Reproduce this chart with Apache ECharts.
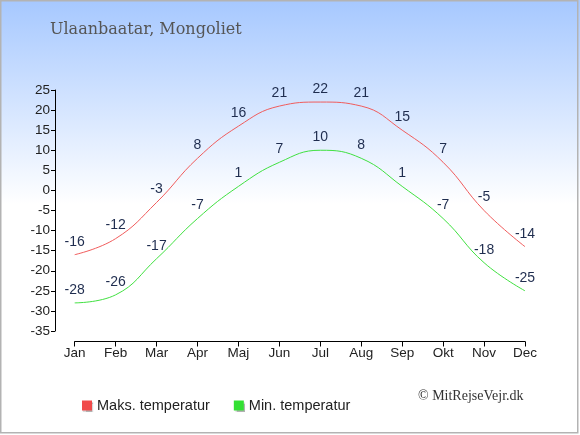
<!DOCTYPE html>
<html>
<head>
<meta charset="utf-8">
<script src="https://cdn.jsdelivr.net/npm/echarts@6/dist/echarts.min.js"></script>
<style>
html,body{margin:0;padding:0;background:#fff;}
#c{width:580px;height:435px;}
</style>
</head>
<body>
<div id="c"></div>
<script>
var months = ['Jan','Feb','Mar','Apr','Maj','Jun','Jul','Aug','Sep','Okt','Nov','Dec'];
var maxTemp = [-16,-12,-3,8,16,21,22,21,15,7,-5,-14];
var minTemp = [-28,-26,-17,-7,1,7,10,8,1,-7,-18,-25];
var seriesNames = ['Maks. temperatur','Min. temperatur'];
var titleText = 'Ulaanbaatar, Mongoliet';
var creditText = '\u00A9 MitRejseVejr.dk';

var chart = echarts.init(document.getElementById('c'), null, {renderer:'canvas'});
var labelStyle = {show:true, position:'top', distance:6, color:'#1f2d4f', fontSize:14, fontFamily:'Liberation Sans, Arial, sans-serif'};
chart.setOption({
  animation:false,
  graphic:[
    {type:'rect', z:-10, silent:true, shape:{x:0,y:0,width:580,height:435},
     style:{fill:new echarts.graphic.LinearGradient(0,0,0,1,[
       {offset:0,color:'#a6c8ff'},{offset:0.47,color:'#ffffff'},{offset:1,color:'#ffffff'}])}},
    {type:'rect', z:100, silent:true, shape:{x:0.75,y:0.75,width:577,height:432},
     style:{fill:'none', stroke:'#b3b3b3', lineWidth:1.5}},
    {type:'text', left:50, top:22, style:{text:titleText, fill:'#555555', font:'16px "DejaVu Serif", serif'}},
    {type:'text', left:418, top:389, style:{text:creditText, fill:'#333333', font:'14px "Liberation Serif", serif'}}
  ],
  grid:{left:74.7, right:55, top:90, bottom:104},
  legend:{
    left:77, top:393, itemWidth:10, itemHeight:10, itemGap:24, icon:'rect',
    textStyle:{color:'#222', fontSize:14.5, fontFamily:'Liberation Sans, Arial, sans-serif'},
    data:[
      {name:seriesNames[0], itemStyle:{color:'#f04a4a', shadowColor:'rgba(0,0,0,0.3)', shadowOffsetX:1, shadowOffsetY:1, shadowBlur:1}},
      {name:seriesNames[1], itemStyle:{color:'#33e033', shadowColor:'rgba(0,0,0,0.3)', shadowOffsetX:1, shadowOffsetY:1, shadowBlur:1}}
    ]
  },
  xAxis:{
    type:'category', data:months, boundaryGap:false, offset:10.5, position:'bottom',
    axisLine:{onZero:false, lineStyle:{color:'#000', width:1}},
    axisTick:{show:true, length:5, inside:false, alignWithLabel:true, lineStyle:{color:'#000'}},
    axisLabel:{color:'#222', fontSize:13.5, margin:5, fontFamily:'Liberation Sans, Arial, sans-serif'},
    splitLine:{show:false}
  },
  yAxis:{
    type:'value', min:-35, max:25, interval:5, offset:19.7,
    axisLine:{show:true, onZero:false, lineStyle:{color:'#000', width:1}},
    axisTick:{show:true, length:4, lineStyle:{color:'#000'}},
    axisLabel:{color:'#222', fontSize:13.5, margin:5, fontFamily:'Liberation Sans, Arial, sans-serif'},
    splitLine:{show:false}
  },
  series:[
    {name:seriesNames[0], type:'line', data:maxTemp, smooth:0.45, symbol:'circle', symbolSize:0, showSymbol:true,
     lineStyle:{color:'#f05c5c', width:1}, itemStyle:{color:'#f04a4a'}, label:labelStyle},
    {name:seriesNames[1], type:'line', data:minTemp, smooth:0.45, symbol:'circle', symbolSize:0, showSymbol:true,
     lineStyle:{color:'#40e040', width:1}, itemStyle:{color:'#33e033'}, label:labelStyle}
  ]
});
</script>
</body>
</html>
